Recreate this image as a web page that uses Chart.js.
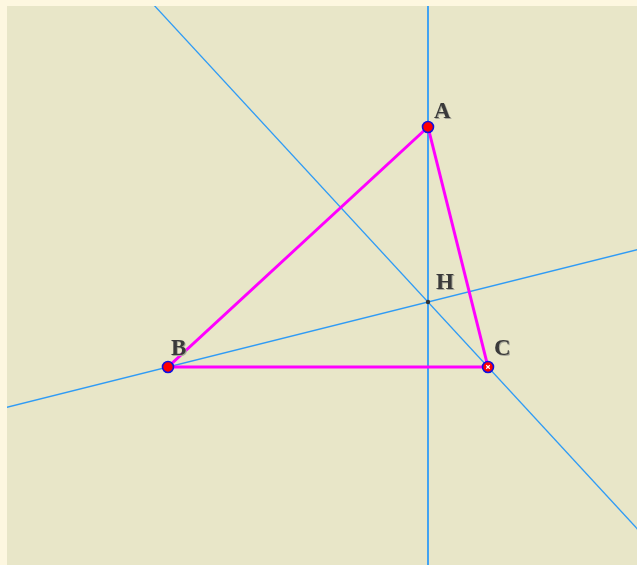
<!DOCTYPE html>
<html>
<head>
<meta charset="utf-8">
<script src="https://cdn.jsdelivr.net/npm/chart.js@4/dist/chart.umd.min.js"></script>
<style>
  html, body { margin: 0; padding: 0; background: #fdf7e0; }
  #wrap { width: 637px; height: 565px; position: relative; }
</style>
</head>
<body>
<div id="wrap"><canvas id="fig"></canvas></div>
<script>
// triangle vertices (units of the figure grid)
var names = ['A', 'B', 'C'];
var xs = [6.5, 0, 8];
var ys = [6, 0, 0];

// visible window of the figure
var xRange = [-4.025, 11.725];
var yRange = [-4.95, 9.025];

var blue = '#2f9bf5';
var pink = '#ff00ff';

var A = {x: xs[0], y: ys[0]}, B = {x: xs[1], y: ys[1]}, C = {x: xs[2], y: ys[2]};

// orthocenter from two altitudes
function orthocenter(a, b, c) {
    // altitude from a: (p-a).(c-b)=0 ; altitude from b: (p-b).(c-a)=0
    var a1 = c.x - b.x, b1 = c.y - b.y, c1 = a1 * a.x + b1 * a.y;
    var a2 = c.x - a.x, b2 = c.y - a.y, c2 = a2 * b.x + b2 * b.y;
    var det = a1 * b2 - a2 * b1;
    return {x: (c1 * b2 - c2 * b1) / det, y: (a1 * c2 - a2 * c1) / det};
}
var H = orthocenter(A, B, C);

// long line through p and q (gets clipped by chart area)
function longLine(p, q) {
    var dx = q.x - p.x, dy = q.y - p.y;
    var len = Math.sqrt(dx * dx + dy * dy) || 1;
    dx /= len; dy /= len;
    return [{x: p.x - dx * 40, y: p.y - dy * 40}, {x: p.x + dx * 40, y: p.y + dy * 40}];
}
var altA = [{x: A.x, y: yRange[0] - 5}, {x: A.x, y: yRange[1] + 5}];
var altB = longLine(B, H);
var altC = longLine(C, H);

var labelPts = [
    {t: 'A', p: A, dx: 6, dy: -3},
    {t: 'B', p: B, dx: 3, dy: -6},
    {t: 'C', p: C, dx: 6, dy: -6},
    {t: 'H', p: H, dx: 8, dy: -7}
];

var bgPlugin = {
    id: 'bg',
    beforeDraw: function(chart) {
        var c = chart.ctx, a = chart.chartArea;
        c.save();
        c.fillStyle = '#e8e6c8';
        c.fillRect(a.left, a.top, a.right - a.left, a.bottom - a.top);
        c.restore();
    },
    afterDatasetsDraw: function(chart) {
        var c = chart.ctx, sx = chart.scales.x, sy = chart.scales.y;
        c.save();
        c.font = 'bold 23px "Liberation Serif", "DejaVu Serif", serif';
        c.textBaseline = 'bottom';
        labelPts.forEach(function(l) {
            var px = sx.getPixelForValue(l.p.x) + l.dx;
            var py = sy.getPixelForValue(l.p.y) + l.dy;
            c.fillStyle = '#a8a89a';
            c.fillText(l.t, px + 1, py + 1);
            c.fillStyle = '#3a3a3a';
            c.fillText(l.t, px, py);
        });
        c.restore();
    }
};

var lineDs = function(pts, color, w, order) {
    return {type: 'line', data: pts, borderColor: color, borderWidth: w, pointRadius: 0,
            showLine: true, fill: false, order: order};
};

new Chart(document.getElementById('fig'), {
    type: 'scatter',
    data: {
        datasets: [
            {data: [{x: C.x, y: C.y}], pointStyle: 'crossRot', pointRadius: 2.5, borderColor: '#ffffff',
             borderWidth: 1.2, order: 0},
            {data: [A, B, C].map(function(p) { return {x: p.x, y: p.y}; }),
             pointRadius: 5.5, backgroundColor: '#ff0000', borderColor: '#1010e0', borderWidth: 1.6, order: 1},
            {data: [{x: H.x, y: H.y}], pointRadius: 2.2, backgroundColor: '#333333', borderColor: '#333333',
             borderWidth: 0, order: 2},
            lineDs([A, B, C, A], pink, 3, 3),
            lineDs(altA, blue, 1.8, 4),
            lineDs(altB, blue, 1.3, 4),
            lineDs(altC, blue, 1.3, 4)
        ]
    },
    options: {
        responsive: true,
        maintainAspectRatio: false,
        animation: false,
        layout: {autoPadding: false, padding: {left: 7, top: 6, right: 0, bottom: 0}},
        plugins: {legend: {display: false}, tooltip: {enabled: false}},
        scales: {
            x: {type: 'linear', min: xRange[0], max: xRange[1], display: false},
            y: {type: 'linear', min: yRange[0], max: yRange[1], display: false}
        }
    },
    plugins: [bgPlugin]
});
</script>
</body>
</html>
